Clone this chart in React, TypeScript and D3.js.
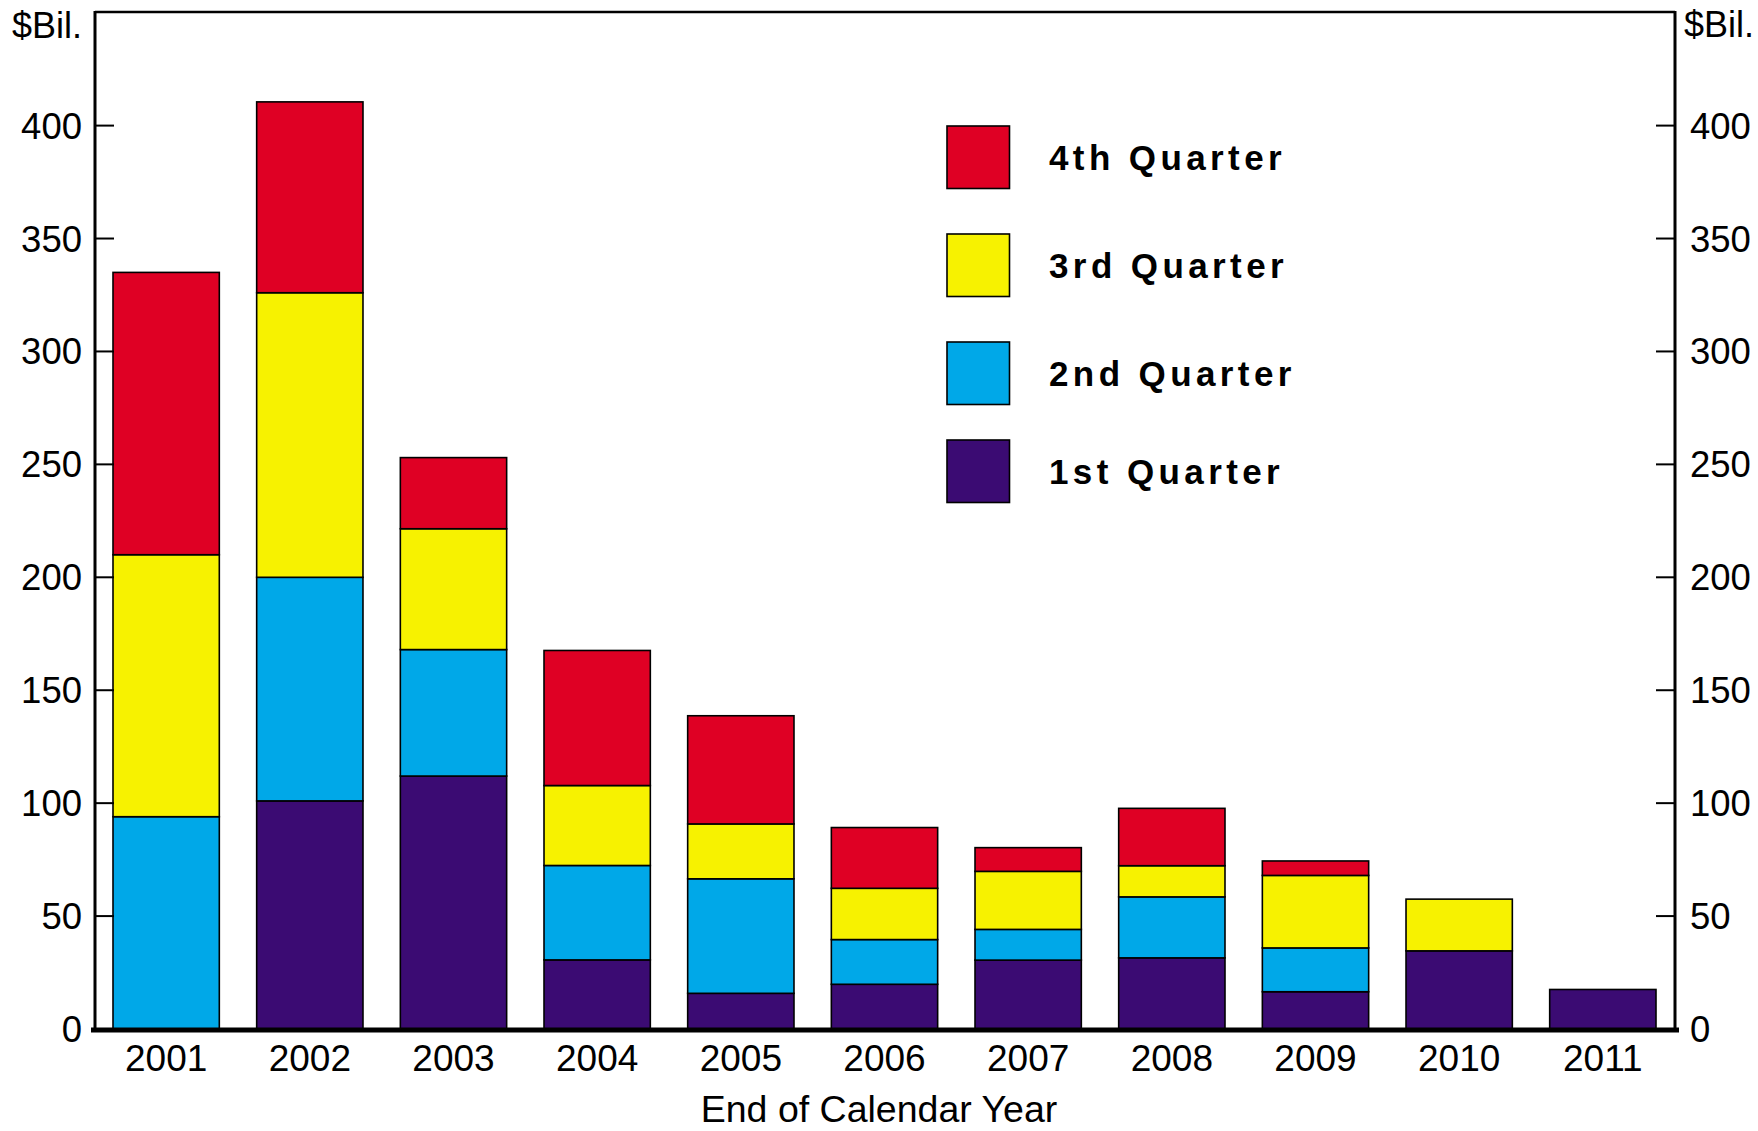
import React from "react";
import * as d3 from "d3";

const years = ["2001", "2002", "2003", "2004", "2005", "2006", "2007", "2008", "2009", "2010", "2011"];
const q1 = [0, 101, 112, 30.6, 15.8, 19.8, 30.5, 31.5, 16.5, 34.6, 17.5];
const q2 = [94, 99, 56, 41.8, 50.7, 19.8, 13.6, 27, 19.4, 0, 0];
const q3 = [116, 126, 53.5, 35.4, 24.3, 22.7, 25.7, 13.8, 32.1, 22.9, 0];
const q4 = [125, 84.5, 31.5, 59.8, 47.9, 26.9, 10.5, 25.4, 6.4, 0, 0];
const seriesKeys = ["q1", "q2", "q3", "q4"];
const seriesLabels = ["1st Quarter", "2nd Quarter", "3rd Quarter", "4th Quarter"];
const seriesColors = ["#3B0B73", "#00A8E8", "#F7F200", "#DF0024"];
const yTicks = [0, 50, 100, 150, 200, 250, 300, 350, 400];
const unitLabel = "$Bil.";
const xTitle = "End of Calendar Year";

const W = 1758;
const H = 1131;
const FONT = "'Liberation Sans', Arial, Helvetica, sans-serif";

export default function App() {
  const axL = 95;
  const axR = 1675;
  const top = 12;
  const x = d3.scaleBand<string>().domain(years).range([113, 1656]).paddingInner(0.26).paddingOuter(0);
  const y = d3.scaleLinear().domain([0, 400]).range([1029, 125.6]);

  const rows = years.map((yr, i) => ({ year: yr, q1: q1[i], q2: q2[i], q3: q3[i], q4: q4[i] }));
  const stacked = d3.stack<any>().keys(seriesKeys)(rows);

  const legendTops = [126, 234, 342, 440];
  const legendOrder = [3, 2, 1, 0];

  return (
    <svg width={W} height={H} style={{ position: "absolute", left: 0, top: 0, background: "#fff" }} fontFamily={FONT}>
      <rect x={0} y={0} width={W} height={H} fill="#fff" />
      {stacked.map((s, si) => (
        <g key={s.key}>
          {s.map((d, i) =>
            d[1] - d[0] > 0 ? (
              <rect
                key={i}
                x={x(years[i])}
                y={y(d[1])}
                width={x.bandwidth()}
                height={y(d[0]) - y(d[1])}
                fill={seriesColors[si]}
                stroke="#000"
                strokeWidth={1.6}
              />
            ) : null
          )}
        </g>
      ))}
      <line x1={axL} x2={axR} y1={top} y2={top} stroke="#000" strokeWidth={2.5} />
      <line x1={axL} x2={axL} y1={top - 1} y2={1031} stroke="#000" strokeWidth={3} />
      <line x1={axR} x2={axR} y1={top - 1} y2={1031} stroke="#000" strokeWidth={3} />
      <line x1={91} x2={1679} y1={1030} y2={1030} stroke="#000" strokeWidth={5} />
      {yTicks.map((t) => (
        <g key={t}>
          <line x1={axL} x2={axL + 19} y1={y(t)} y2={y(t)} stroke="#000" strokeWidth={2} />
          <line x1={axR - 19} x2={axR} y1={y(t)} y2={y(t)} stroke="#000" strokeWidth={2} />
          <text x={82} y={y(t) + 13} fontSize={36.5} textAnchor="end" fill="#000">
            {t}
          </text>
          <text x={1690} y={y(t) + 13} fontSize={36.5} textAnchor="start" fill="#000">
            {t}
          </text>
        </g>
      ))}
      <text x={82} y={38} fontSize={36} textAnchor="end" fill="#000">{unitLabel}</text>
      <text x={1684} y={37} fontSize={36} textAnchor="start" fill="#000">{unitLabel}</text>
      {years.map((yr) => (
        <text key={yr} x={(x(yr) as number) + x.bandwidth() / 2} y={1071} fontSize={37} textAnchor="middle" fill="#000">
          {yr}
        </text>
      ))}
      <text x={879} y={1122} fontSize={37.5} textAnchor="middle" fill="#000">{xTitle}</text>
      {legendOrder.map((si, k) => (
        <g key={si}>
          <rect x={947} y={legendTops[k]} width={62.5} height={62.5} fill={seriesColors[si]} stroke="#000" strokeWidth={1.6} />
          <text x={1049} y={legendTops[k] + 44} fontSize={35} fontWeight="bold" letterSpacing={4.4} fill="#000">
            {seriesLabels[si]}
          </text>
        </g>
      ))}
    </svg>
  );
}
